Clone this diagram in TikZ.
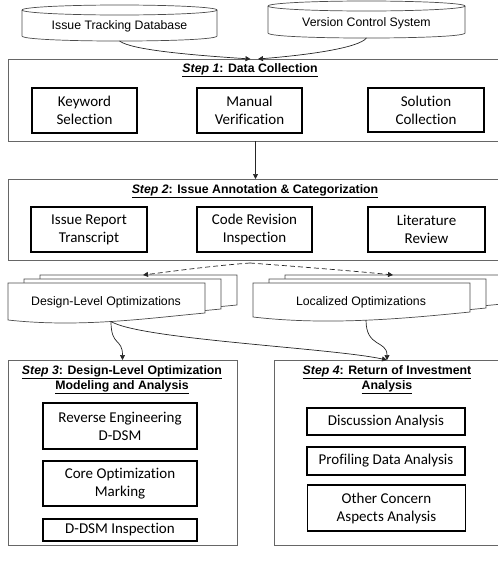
\documentclass[tikz,border=0pt]{standalone}
\usepackage{fontspec}
\setmainfont{Liberation Sans}
\newfontfamily\calibri[Ligatures=NoCommon]{Carlito}
\usetikzlibrary{arrows.meta,calc}

\tikzset{
  frame/.style={draw=black!60, line width=0.8pt, inner sep=0pt, outer sep=0pt},
  stepbox/.style={draw=black, line width=1.5pt, align=center, inner sep=0pt,
    font=\calibri\fontsize{15}{18}\selectfont},
  steptitle/.style={align=center, inner sep=0pt, font=\bfseries\fontsize{12.3}{15}\selectfont},
  plaintext/.style={align=center, inner sep=0pt, outer sep=0pt, font=\fontsize{12.3}{15}\selectfont},
  outline/.style={draw=black!70, line width=0.7pt, fill=white},
  flow/.style={-{Triangle[width=5pt,length=5pt]}, draw=black!85, line width=0.7pt},
}

\begin{document}
\begin{tikzpicture}[x=1pt, y=1pt]
  \useasboundingbox (0,0) rectangle (498,-565);

  % data sources
  \draw[outline] (22,-10) -- (22,-36) .. controls (22,-42.7) and (217,-42.7) .. (217,-36) -- (217,-10);
  \draw[outline] (119.5,-10) ellipse [x radius=97.5pt, y radius=5pt];
  \node[plaintext, minimum width=195pt, minimum height=30pt] (itdb) at (119.5,-26) {Issue Tracking Database};

  \draw[outline] (268,-6) -- (268,-33) .. controls (268,-39.7) and (465,-39.7) .. (465,-33) -- (465,-6);
  \draw[outline] (366.5,-6) ellipse [x radius=98.5pt, y radius=5pt];
  \node[plaintext, minimum width=197pt, minimum height=30pt] (vcs) at (366.5,-23) {Version Control System};

  % step 1
  \node[frame, minimum width=495pt, minimum height=82pt] (step1) at (255.5,-100) {};
  \node[steptitle] (title1) at (250,-70) {\underline{\textit{Step 1}: Data Collection}};
  \node[stepbox, minimum width=105pt, minimum height=45pt] (kwsel) at (84.5,-110.5) {Keyword\\Selection};
  \node[stepbox, minimum width=105pt, minimum height=45pt] (manver) at (249.5,-110.5) {Manual\\Verification};
  \node[stepbox, minimum width=116pt, minimum height=44pt] (solcol) at (426,-110) {Solution\\Collection};

  \draw[flow] (itdb.south) .. controls +(12,-9) and +(-60,4) .. ($(step1.north)+(-5,0)$);
  \draw[flow] (vcs.south) .. controls +(-8,-10) and +(50,4) .. ($(step1.north)+(2.5,0)$);

  % step 2
  \node[frame, minimum width=495pt, minimum height=81pt] (step2) at (255.5,-219.5) {};
  \node[steptitle] (title2) at (255,-191) {\underline{\textit{Step 2}: Issue Annotation \& Categorization}};
  \node[stepbox, minimum width=116pt, minimum height=45pt] (irtrans) at (89,-229.5) {Issue Report\\Transcript};
  \node[stepbox, minimum width=115pt, minimum height=45pt] (crinsp) at (254.5,-229.5) {Code Revision\\Inspection};
  \node[stepbox, minimum width=117pt, minimum height=45pt] (litrev) at (426.5,-229.5) {Literature\\Review};

  \draw[flow] (step1.south) -- (step2.north);

  % optimization documents
  \foreach \d in {32,16,0} {
    \filldraw[outline, shift={(\d,\d/4)}] (8,-283) -- (205,-283) -- (205,-313)
      .. controls (150,-318) and (80,-328) .. (8,-320) -- cycle;
    \filldraw[outline, shift={(\d,\d/4)}] (253,-283) -- (470,-283) -- (470,-312)
      .. controls (410,-318) and (330,-326) .. (253,-317) -- cycle;
  }
  \node[plaintext] (dlopt) at (106,-302) {Design-Level Optimizations};
  \node[plaintext] (locopt) at (361,-302) {Localized Optimizations};
  \coordinate (dlopt-b) at (111,-321.5);
  \coordinate (locopt-b) at (366,-320);
  \coordinate (split) at (250,-263);

  \draw[flow, dash pattern=on 5pt off 3pt] (split) .. controls (210,-266) and (175,-271) .. ($(dlopt)+(37,27)$);
  \draw[flow, dash pattern=on 5pt off 3pt] (split) .. controls (290,-266) and (355,-271) .. ($(locopt)+(32,27)$);

  % step 3
  \node[frame, minimum width=229pt, minimum height=185pt] (step3) at (122.5,-452.5) {};
  \node[steptitle] (title3) at (122,-379.5) {\underline{\textit{Step 3}: Design-Level Optimization}\\\underline{Modeling and Analysis}};
  \node[stepbox, minimum width=154pt, minimum height=46pt] (reveng) at (120,-426) {Reverse Engineering\\D-DSM};
  \node[stepbox, minimum width=154pt, minimum height=45pt] (coremark) at (120,-483.5) {Core Optimization\\Marking};
  \node[stepbox, minimum width=154pt, minimum height=22pt] (ddsm) at (120,-530) {D-DSM Inspection};

  % step 4
  \node[frame, minimum width=229pt, minimum height=185pt] (step4) at (388.5,-452.5) {};
  \node[steptitle] (title4) at (387,-379.5) {\underline{\textit{Step 4}: Return of Investment}\\\underline{Analysis}};
  \node[stepbox, minimum width=158pt, minimum height=27pt] (discana) at (386,-421.5) {Discussion Analysis};
  \node[stepbox, minimum width=158pt, minimum height=28pt] (profana) at (386,-461) {Profiling Data Analysis};
  \node[stepbox, minimum width=158pt, minimum height=46pt] (otherana) at (386.5,-508) {Other Concern\\Aspects Analysis};

  \draw[flow] (dlopt-b) .. controls +(0,-25) and +(0,22) .. ($(step3.north)+(0,0)$);
  \draw[flow] (dlopt-b) .. controls +(30,-18) and +(-55,12) .. ($(step4.north)+(-1.5,0)$);
  \draw[flow] (locopt-b) .. controls +(0,-28) and +(0,20) .. ($(step4.north)+(-1.5,0)$);
\end{tikzpicture}
\end{document}
